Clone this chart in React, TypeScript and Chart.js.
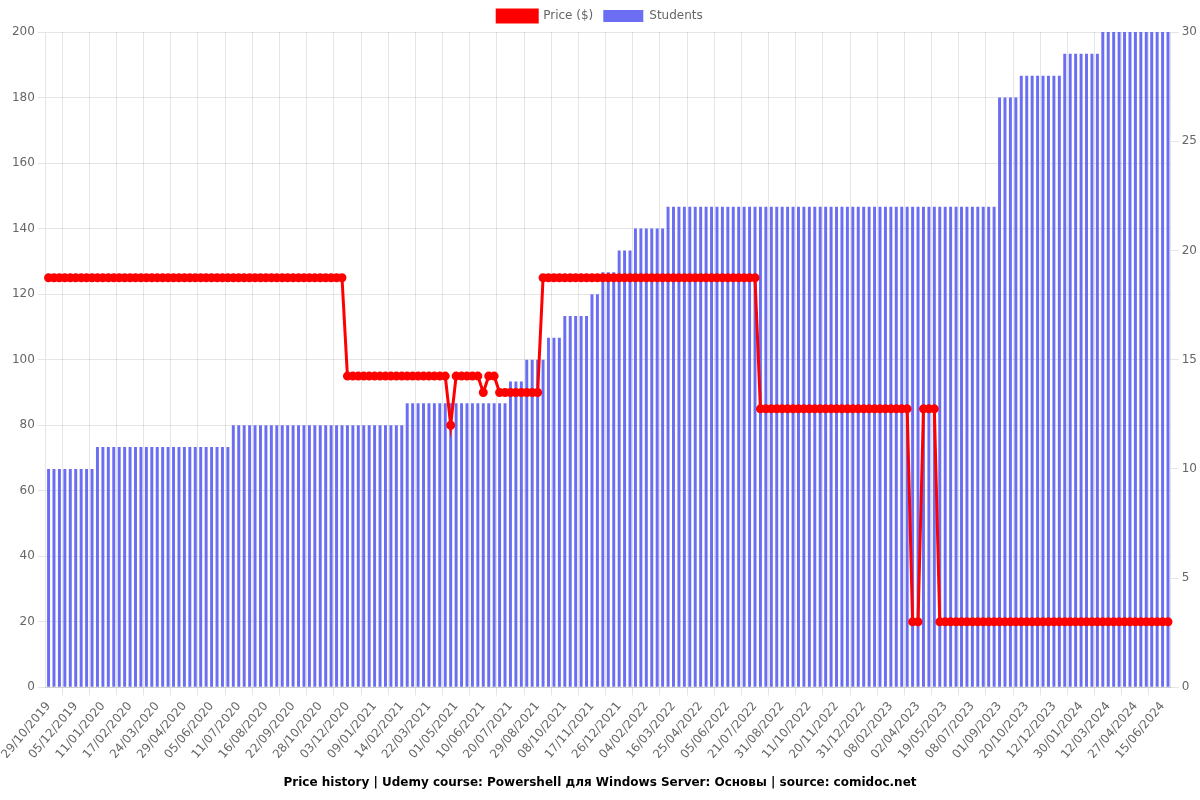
import React, { useEffect, useRef } from "react";
import { Chart, registerables } from "chart.js";

Chart.register(...registerables);

// Visible x tick labels (every 5th data point)
const tickLabels: string[] = [
  "29/10/2019", "05/12/2019", "11/01/2020", "17/02/2020", "24/03/2020", "29/04/2020",
  "05/06/2020", "11/07/2020", "16/08/2020", "22/09/2020", "28/10/2020", "03/12/2020",
  "09/01/2021", "14/02/2021", "22/03/2021", "01/05/2021", "10/06/2021", "20/07/2021",
  "29/08/2021", "08/10/2021", "17/11/2021", "26/12/2021", "04/02/2022", "16/03/2022",
  "25/04/2022", "05/06/2022", "21/07/2022", "31/08/2022", "11/10/2022", "20/11/2022",
  "31/12/2022", "08/02/2023", "02/04/2023", "19/05/2023", "08/07/2023", "01/09/2023",
  "20/10/2023", "12/12/2023", "30/01/2024", "12/03/2024", "27/04/2024", "15/06/2024",
];

// Price ($) per data point (207 points)
const prices: number[] = [
  125, 125, 125, 125, 125, 125, 125, 125, 125, 125,
  125, 125, 125, 125, 125, 125, 125, 125, 125, 125,
  125, 125, 125, 125, 125, 125, 125, 125, 125, 125,
  125, 125, 125, 125, 125, 125, 125, 125, 125, 125,
  125, 125, 125, 125, 125, 125, 125, 125, 125, 125,
  125, 125, 125, 125, 125, 95, 95, 95, 95, 95,
  95, 95, 95, 95, 95, 95, 95, 95, 95, 95,
  95, 95, 95, 95, 80, 95, 95, 95, 95, 95,
  90, 95, 95, 90, 90, 90, 90, 90, 90, 90,
  90, 125, 125, 125, 125, 125, 125, 125, 125, 125,
  125, 125, 125, 125, 125, 125, 125, 125, 125, 125,
  125, 125, 125, 125, 125, 125, 125, 125, 125, 125,
  125, 125, 125, 125, 125, 125, 125, 125, 125, 125,
  125, 85, 85, 85, 85, 85, 85, 85, 85, 85,
  85, 85, 85, 85, 85, 85, 85, 85, 85, 85,
  85, 85, 85, 85, 85, 85, 85, 85, 85, 20,
  20, 85, 85, 85, 20, 20, 20, 20, 20, 20,
  20, 20, 20, 20, 20, 20, 20, 20, 20, 20,
  20, 20, 20, 20, 20, 20, 20, 20, 20, 20,
  20, 20, 20, 20, 20, 20, 20, 20, 20, 20,
  20, 20, 20, 20, 20, 20, 20,
];

// Students per data point (207 points)
const students: number[] = [
  10, 10, 10, 10, 10, 10, 10, 10, 10, 11,
  11, 11, 11, 11, 11, 11, 11, 11, 11, 11,
  11, 11, 11, 11, 11, 11, 11, 11, 11, 11,
  11, 11, 11, 11, 12, 12, 12, 12, 12, 12,
  12, 12, 12, 12, 12, 12, 12, 12, 12, 12,
  12, 12, 12, 12, 12, 12, 12, 12, 12, 12,
  12, 12, 12, 12, 12, 12, 13, 13, 13, 13,
  13, 13, 13, 13, 13, 13, 13, 13, 13, 13,
  13, 13, 13, 13, 13, 14, 14, 14, 15, 15,
  15, 15, 16, 16, 16, 17, 17, 17, 17, 17,
  18, 18, 19, 19, 19, 20, 20, 20, 21, 21,
  21, 21, 21, 21, 22, 22, 22, 22, 22, 22,
  22, 22, 22, 22, 22, 22, 22, 22, 22, 22,
  22, 22, 22, 22, 22, 22, 22, 22, 22, 22,
  22, 22, 22, 22, 22, 22, 22, 22, 22, 22,
  22, 22, 22, 22, 22, 22, 22, 22, 22, 22,
  22, 22, 22, 22, 22, 22, 22, 22, 22, 22,
  22, 22, 22, 22, 22, 27, 27, 27, 27, 28,
  28, 28, 28, 28, 28, 28, 28, 29, 29, 29,
  29, 29, 29, 29, 30, 30, 30, 30, 30, 30,
  30, 30, 30, 30, 30, 30, 30,
];

const TICK_EVERY = 5;
const labels: string[] = prices.map((_, i) =>
  i % TICK_EVERY === 0 && tickLabels[i / TICK_EVERY] !== undefined ? tickLabels[i / TICK_EVERY] : ""
);

const TITLE = "Price history | Udemy course: Powershell для Windows Server: Основы | source: comidoc.net";

export default function App() {
  const ref = useRef<HTMLCanvasElement | null>(null);

  useEffect(() => {
    document.body.style.margin = "0";
    if (!ref.current) return;
    Chart.defaults.font.family = "'DejaVu Sans', sans-serif";
    Chart.defaults.font.size = 12;
    Chart.defaults.color = "#666";
    const chart = new Chart(ref.current, {
      type: "bar",
      data: {
        labels,
        datasets: [
          {
            type: "line",
            label: "Price ($)",
            data: prices,
            borderColor: "rgb(255, 0, 0)",
            backgroundColor: "rgb(255, 0, 0)",
            borderWidth: 3,
            pointRadius: 3,
            tension: 0,
            yAxisID: "y",
          },
          {
            type: "bar",
            label: "Students",
            data: students,
            backgroundColor: "rgba(99, 102, 241, 0.95)",
            borderWidth: 0,
            barPercentage: 0.68,
            yAxisID: "y1",
          },
        ],
      },
      options: {
        responsive: false,
        animation: false,
        plugins: {
          legend: { position: "top" },
          title: {
            display: true,
            position: "bottom",
            text: TITLE,
            color: "#000",
            font: { size: 12, weight: "bold" },
          },
          tooltip: { enabled: false },
        },
        scales: {
          x: { ticks: { autoSkip: true, padding: 4 } },
          y: { position: "left", min: 0, max: 200, ticks: { stepSize: 20 } },
          y1: {
            position: "right",
            min: 0,
            max: 30,
            ticks: { stepSize: 5 },
            grid: { drawOnChartArea: false },
          },
        },
      },
    });
    return () => chart.destroy();
  }, []);

  return <canvas ref={ref} width={1200} height={800} style={{ display: "block" }} />;
}
